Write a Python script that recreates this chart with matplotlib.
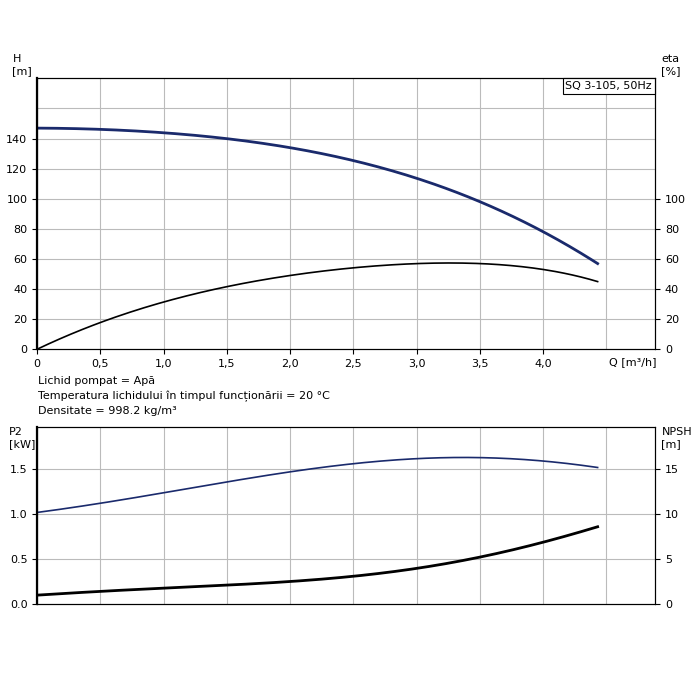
import numpy as np
import matplotlib.pyplot as plt

# pump curve, SQ 3-105
q = [0.0, 0.5, 1.0, 1.5, 2.0, 2.5, 3.0, 3.5, 4.0, 4.43]
head = [147, 146, 144, 140, 134, 125, 114, 98, 78, 57]
eta = [0, 18, 31, 42, 49, 54, 57, 57, 53, 45]
p2 = [1.02, 1.12, 1.24, 1.36, 1.47, 1.56, 1.62, 1.63, 1.59, 1.52]
npsh = [1.0, 1.4, 1.8, 2.1, 2.5, 3.1, 4.0, 5.2, 6.9, 8.6]

q_ticks = [0, 0.5, 1.0, 1.5, 2.0, 2.5, 3.0, 3.5, 4.0]
q_labels = ["0", "0,5", "1,0", "1,5", "2,0", "2,5", "3,0", "3,5", "4,0"]


def smooth(x, y):
    xs = np.linspace(x[0], x[-1], 200)
    c = np.polyfit(x, y, 5)
    return xs, np.polyval(c, xs)


plt.rcParams["font.family"] = "DejaVu Sans"
plt.rcParams["font.size"] = 8
fig = plt.figure(figsize=(7, 7), dpi=100)

xmax = 4.885
grid_kw = dict(color="#bbbbbb", lw=0.8)

# ---------- top: H and eta ----------
ax = fig.add_axes([0.053, 0.501, 0.883, 0.387])
ax.set_xlim(0, xmax)
ax.set_ylim(0, 180)
for gx in np.arange(0.5, xmax, 0.5):
    ax.axvline(gx, **grid_kw)
for gy in range(20, 180, 20):
    ax.axhline(gy, **grid_kw)
xs, ys = smooth(q, head)
ax.plot(xs, ys, color="#1a2a6c", lw=2)
xs, ys = smooth(q, eta)
ax.plot(xs, ys, color="black", lw=1.2)
ax.set_yticks(range(0, 141, 20))
ax.set_xticks(q_ticks)
ax.set_xticklabels(q_labels)
ax.spines["left"].set_linewidth(1.6)
ax2 = ax.twinx()
ax2.set_ylim(0, 180)
ax2.set_yticks(range(0, 101, 20))
ax.text(-0.04, 1.01, "H\n[m]", transform=ax.transAxes, ha="left", va="bottom")
ax.text(1.01, 1.01, "eta\n[%]", transform=ax.transAxes, ha="left", va="bottom")
ax.text(0.995, 0.99, "SQ 3-105, 50Hz", transform=ax.transAxes, ha="right", va="top",
        bbox=dict(facecolor="white", edgecolor="black", lw=0.8, pad=2))
ax.text(0.925, -0.03, "Q [m³/h]", transform=ax.transAxes, ha="left", va="top")

fig.text(0.055, 0.434, "Lichid pompat = Apă\n"
         "Temperatura lichidului în timpul funcționării = 20 °C\n"
         "Densitate = 998.2 kg/m³", ha="left", va="center", linespacing=1.5)

# ---------- bottom: P2 and NPSH ----------
bx = fig.add_axes([0.053, 0.137, 0.883, 0.253])
bx.set_xlim(0, xmax)
bx.set_ylim(0, 1.97)
for gx in np.arange(0.5, xmax, 0.5):
    bx.axvline(gx, **grid_kw)
for gy in [0.5, 1.0, 1.5]:
    bx.axhline(gy, **grid_kw)
xs, ys = smooth(q, p2)
bx.plot(xs, ys, color="#1a2a6c", lw=1.2)
bx.set_yticks([0, 0.5, 1.0, 1.5])
bx.set_yticklabels(["0.0", "0.5", "1.0", "1.5"])
bx.set_xticks([])
bx.spines["left"].set_linewidth(1.6)
bx2 = bx.twinx()
bx2.set_ylim(0, 19.7)
bx2.set_yticks([0, 5, 10, 15])
xs, ys = smooth(q, npsh)
bx2.plot(xs, ys, color="black", lw=2)
bx.text(-0.045, 1.0, "P2\n[kW]", transform=bx.transAxes, ha="left", va="top")
bx.text(1.01, 1.0, "NPSH\n[m]", transform=bx.transAxes, ha="left", va="top")

fig.savefig("out.png", dpi=100)
